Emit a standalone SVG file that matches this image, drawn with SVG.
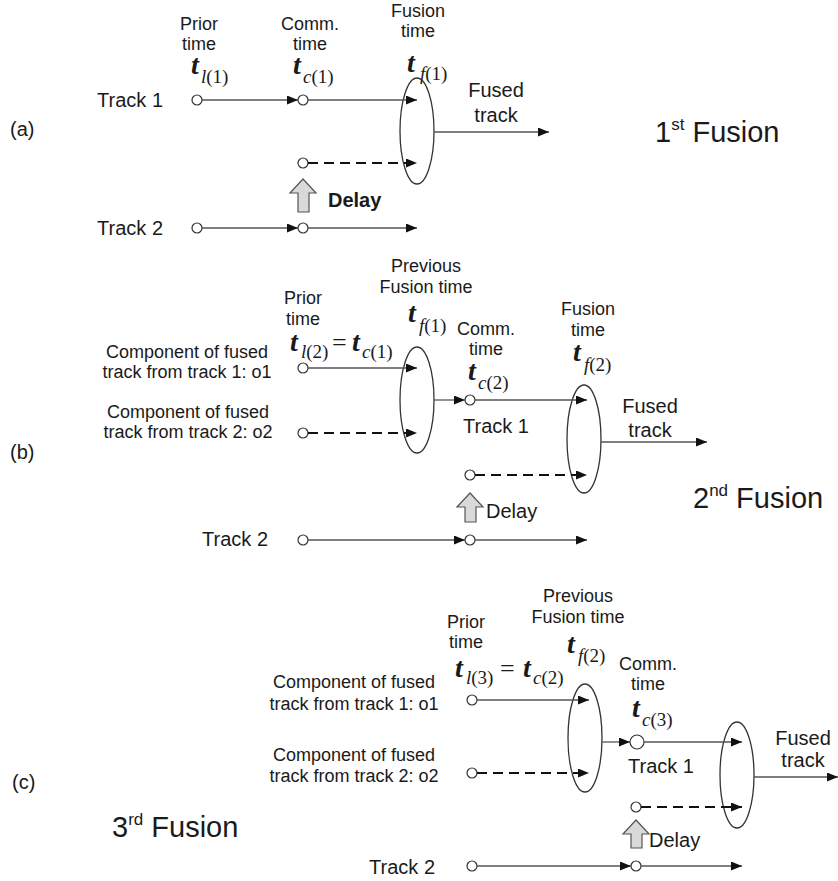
<svg xmlns="http://www.w3.org/2000/svg" width="838" height="881" viewBox="0 0 838 881">
<style>
text{font-family:"Liberation Sans",Arial,sans-serif;fill:#1a1a1a}
.s{font-size:18px;text-anchor:middle}
.c{font-size:18px;text-anchor:middle}
.tk{font-size:20px}
.tr{font-size:20px;text-anchor:end}
.fu{font-size:20px;text-anchor:middle}
.big{font-size:29px}
.sup{font-size:17px}
.pl{font-size:20px}
.mt{font-family:"Liberation Serif","Times New Roman",serif;font-style:italic;font-weight:bold;font-size:28px}
.ms{font-family:"Liberation Serif","Times New Roman",serif;font-size:19px}
.eq{font-family:"Liberation Serif","Times New Roman",serif;font-size:26px}
.i{font-style:italic}
.nd{fill:#fff;stroke:#333;stroke-width:1.2}
.el{fill:none;stroke:#333;stroke-width:1.3}
.ln{stroke:#555;stroke-width:1.3;fill:none}
.ds{stroke:#111;stroke-width:2.2;stroke-dasharray:10 6;fill:none}
.dl{fill:#d9d9d9;stroke:#555;stroke-width:1.2}
</style>
<defs>
<marker id="ah" markerUnits="userSpaceOnUse" markerWidth="11" markerHeight="9" refX="11" refY="4.5" orient="auto">
<path d="M0,0 L11,4.5 L0,9 z" fill="#111"/>
</marker>
</defs>

<!-- ================= Panel (a) ================= -->
<g id="panel-a-labels">
<text x="10" y="136" class="pl">(a)</text>
<text x="163" y="107" class="tr">Track 1</text>
<text x="163" y="235" class="tr">Track 2</text>
<text x="199" y="30" class="s">Prior</text>
<text x="199" y="50" class="s">time</text>
<text x="191" y="74" class="mt">t</text>
<text x="201" y="83" class="ms"><tspan class="i">l</tspan>(1)</text>
<text x="310" y="30" class="s">Comm.</text>
<text x="310" y="50" class="s">time</text>
<text x="293" y="74" class="mt">t</text>
<text x="303" y="83" class="ms"><tspan class="i">c</tspan>(1)</text>
<text x="418" y="17" class="s">Fusion</text>
<text x="418" y="37" class="s">time</text>
<text x="407" y="72" class="mt">t</text>
<text x="420" y="80" class="ms"><tspan class="i">f</tspan>(1)</text>
<text x="496" y="97" class="fu">Fused</text>
<text x="496" y="122" class="fu">track</text>
<text x="655" y="142" class="big">1<tspan class="sup" dy="-12">st</tspan><tspan dy="12"> Fusion</tspan></text>
<text x="328" y="207" class="tk" font-weight="bold">Delay</text>
</g>
<g id="a-t1-prior"><circle class="nd" cx="197" cy="100" r="5"/></g>
<g id="a-t1-comm"><circle class="nd" cx="303" cy="100" r="5"/></g>
<g id="a-t2-delayed"><circle class="nd" cx="303" cy="163" r="5"/></g>
<g id="a-t2-prior"><circle class="nd" cx="197" cy="228" r="5"/></g>
<g id="a-t2-comm"><circle class="nd" cx="303" cy="228" r="5"/></g>
<g id="a-fusion"><ellipse class="el" cx="417" cy="131" rx="17" ry="53"/></g>
<g id="a-delay"><polygon class="dl" points="303,179 290,193 298,193 298,212 309,212 309,193 316,193"/></g>

<!-- ================= Panel (b) ================= -->
<g id="panel-b-labels">
<text x="10" y="459" class="pl">(b)</text>
<text x="187" y="358" class="c">Component of fused</text>
<text x="187" y="378" class="c">track from track 1: o1</text>
<text x="188" y="418" class="c">Component of fused</text>
<text x="188" y="438" class="c">track from track 2: o2</text>
<text x="268" y="546" class="tr">Track 2</text>
<text x="303" y="304" class="s">Prior</text>
<text x="303" y="325" class="s">time</text>
<text x="290" y="351" class="mt">t</text>
<text x="301" y="358" class="ms"><tspan class="i">l</tspan>(2)</text>
<text x="332" y="351" class="eq">=</text>
<text x="352" y="351" class="mt">t</text>
<text x="362" y="358" class="ms"><tspan class="i">c</tspan>(1)</text>
<text x="426" y="272" class="s">Previous</text>
<text x="426" y="293" class="s">Fusion time</text>
<text x="408" y="322" class="mt">t</text>
<text x="419" y="332" class="ms"><tspan class="i">f</tspan>(1)</text>
<text x="486" y="335" class="s">Comm.</text>
<text x="486" y="355" class="s">time</text>
<text x="468" y="380" class="mt">t</text>
<text x="478" y="389" class="ms"><tspan class="i">c</tspan>(2)</text>
<text x="463" y="433" class="tk">Track 1</text>
<text x="588" y="315" class="s">Fusion</text>
<text x="588" y="336" class="s">time</text>
<text x="573" y="361" class="mt">t</text>
<text x="584" y="371" class="ms"><tspan class="i">f</tspan>(2)</text>
<text x="650" y="413" class="fu">Fused</text>
<text x="650" y="437" class="fu">track</text>
<text x="486" y="518" class="tk">Delay</text>
<text x="693" y="508" class="big">2<tspan class="sup" dy="-12">nd</tspan><tspan dy="12"> Fusion</tspan></text>
</g>
<g id="b-o1"><circle class="nd" cx="303" cy="368" r="5"/></g>
<g id="b-o2"><circle class="nd" cx="303" cy="433" r="5"/></g>
<g id="b-prev-fusion"><ellipse class="el" cx="417" cy="400" rx="17" ry="53"/></g>
<g id="b-t1-comm"><circle class="nd" cx="470" cy="400" r="5"/></g>
<g id="b-t2-delayed"><circle class="nd" cx="470" cy="475" r="5"/></g>
<g id="b-t2-prior"><circle class="nd" cx="303" cy="540" r="5"/></g>
<g id="b-t2-comm"><circle class="nd" cx="470" cy="540" r="5"/></g>
<g id="b-fusion"><ellipse class="el" cx="584" cy="439" rx="17" ry="54"/></g>
<g id="b-delay"><polygon class="dl" points="470,493 457,507 465,507 465,522 476,522 476,507 483,507"/></g>

<!-- ================= Panel (c) ================= -->
<g id="panel-c-labels">
<text x="12" y="789" class="pl">(c)</text>
<text x="354" y="688" class="c">Component of fused</text>
<text x="354" y="710" class="c">track from track 1: o1</text>
<text x="354" y="761" class="c">Component of fused</text>
<text x="354" y="782" class="c">track from track 2: o2</text>
<text x="435" y="874" class="tr">Track 2</text>
<text x="112" y="837" class="big">3<tspan class="sup" dy="-12">rd</tspan><tspan dy="12"> Fusion</tspan></text>
<text x="466" y="628" class="s">Prior</text>
<text x="466" y="648" class="s">time</text>
<text x="455" y="677" class="mt">t</text>
<text x="466" y="684" class="ms"><tspan class="i">l</tspan>(3)</text>
<text x="500" y="677" class="eq">=</text>
<text x="523" y="677" class="mt">t</text>
<text x="533" y="684" class="ms"><tspan class="i">c</tspan>(2)</text>
<text x="578" y="602" class="s">Previous</text>
<text x="578" y="623" class="s">Fusion time</text>
<text x="567" y="653" class="mt">t</text>
<text x="578" y="662" class="ms"><tspan class="i">f</tspan>(2)</text>
<text x="648" y="670" class="s">Comm.</text>
<text x="648" y="690" class="s">time</text>
<text x="632" y="717" class="mt">t</text>
<text x="642" y="726" class="ms"><tspan class="i">c</tspan>(3)</text>
<text x="628" y="773" class="tk">Track 1</text>
<text x="803" y="745" class="fu">Fused</text>
<text x="803" y="767" class="fu">track</text>
<text x="649" y="847" class="tk">Delay</text>
</g>
<g id="c-o1"><circle class="nd" cx="472" cy="700" r="5"/></g>
<g id="c-o2"><circle class="nd" cx="472" cy="773" r="5"/></g>
<g id="c-prev-fusion"><ellipse class="el" cx="585" cy="738" rx="17" ry="54"/></g>
<g id="c-t1-comm"><circle class="nd" cx="637" cy="742" r="7"/></g>
<g id="c-t2-delayed"><circle class="nd" cx="636" cy="807" r="5"/></g>
<g id="c-t2-prior"><circle class="nd" cx="472" cy="866" r="5"/></g>
<g id="c-t2-comm"><circle class="nd" cx="636" cy="866" r="5"/></g>
<g id="c-fusion"><ellipse class="el" cx="737" cy="775" rx="17" ry="53"/></g>
<g id="c-delay"><polygon class="dl" points="636,820 623,834 631,834 631,848 642,848 642,834 649,834"/></g>

<!-- ================= Connectors ================= -->
<g id="connectors">
<!-- (a) -->
<line class="ln" x1="202" y1="100" x2="298" y2="100" marker-end="url(#ah)"/>
<line class="ln" x1="308" y1="100" x2="417" y2="100" marker-end="url(#ah)"/>
<line class="ds" x1="308" y1="163" x2="417" y2="163" marker-end="url(#ah)"/>
<line class="ln" x1="434" y1="132" x2="549" y2="132" marker-end="url(#ah)"/>
<line class="ln" x1="202" y1="228" x2="298" y2="228" marker-end="url(#ah)"/>
<line class="ln" x1="308" y1="228" x2="417" y2="228" marker-end="url(#ah)"/>
<!-- (b) -->
<line class="ln" x1="308" y1="368" x2="417" y2="368" marker-end="url(#ah)"/>
<line class="ds" x1="308" y1="433" x2="417" y2="433" marker-end="url(#ah)"/>
<line class="ln" x1="434" y1="400" x2="465" y2="400" marker-end="url(#ah)"/>
<line class="ln" x1="475" y1="400" x2="587" y2="400" marker-end="url(#ah)"/>
<line class="ds" x1="475" y1="475" x2="587" y2="475" marker-end="url(#ah)"/>
<line class="ln" x1="601" y1="442" x2="707" y2="442" marker-end="url(#ah)"/>
<line class="ln" x1="308" y1="540" x2="465" y2="540" marker-end="url(#ah)"/>
<line class="ln" x1="475" y1="540" x2="587" y2="540" marker-end="url(#ah)"/>
<!-- (c) -->
<line class="ln" x1="477" y1="700" x2="589" y2="700" marker-end="url(#ah)"/>
<line class="ds" x1="477" y1="773" x2="589" y2="773" marker-end="url(#ah)"/>
<line class="ln" x1="602" y1="742" x2="630" y2="742" marker-end="url(#ah)"/>
<line class="ln" x1="644" y1="742" x2="742" y2="742" marker-end="url(#ah)"/>
<line class="ds" x1="641" y1="807" x2="742" y2="807" marker-end="url(#ah)"/>
<line class="ln" x1="754" y1="777" x2="838" y2="777" marker-end="url(#ah)"/>
<line class="ln" x1="477" y1="866" x2="631" y2="866" marker-end="url(#ah)"/>
<line class="ln" x1="641" y1="866" x2="742" y2="866" marker-end="url(#ah)"/>
</g>
</svg>
